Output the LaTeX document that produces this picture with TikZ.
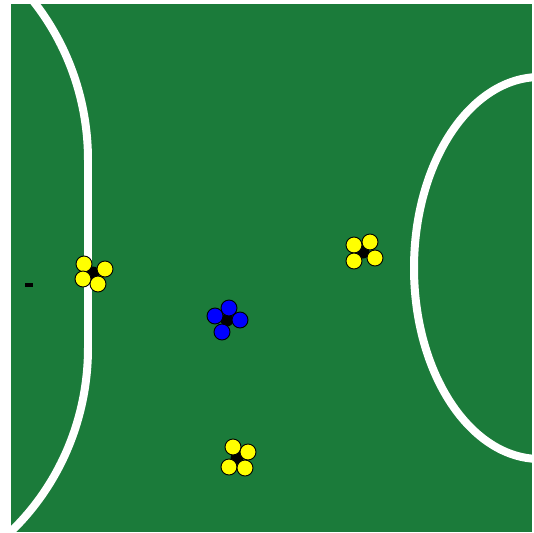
\documentclass[tikz,border=0pt]{standalone}
\definecolor{field}{HTML}{1B7B3A}
\definecolor{ylw}{HTML}{FFFF00}
\definecolor{blu}{HTML}{0000FF}
\tikzset{
  fieldline/.style={draw=white, line width=8pt},
  robot/.style={circle, draw=black, line width=0.9pt, minimum size=16pt, inner sep=0pt},
  hub/.style={circle, fill=black, minimum size=13pt, inner sep=0pt},
}
\begin{document}
\begin{tikzpicture}[x=1pt,y=-1pt]
\useasboundingbox (0,0) rectangle (534,532);
\fill[white] (0,0) rectangle (534,532);
\fill[field] (11,4) rectangle (532,532);
\begin{scope}
\clip (11,4) rectangle (532,532);
\draw[fieldline] (88,160) arc[start angle=0,end angle=-70,x radius=240,y radius=250];
\draw[fieldline] (88,158) -- (88,350);
\draw[fieldline] (88,348) arc[start angle=0,end angle=70,x radius=240,y radius=250];
\draw[fieldline] (540,268) ellipse[x radius=126,y radius=191];
\end{scope}
\fill[black] (25,283) rectangle (33,287);
% left yellow
\node[hub] (h1) at (93,273) {};
\node[robot,fill=ylw] (a1) at (84,264) {};
\node[robot,fill=ylw] (a2) at (105,269) {};
\node[robot,fill=ylw] (a3) at (83,279) {};
\node[robot,fill=ylw] (a4) at (98,284) {};
% blue
\node[hub] (h2) at (227,320) {};
\node[robot,fill=blu] (b1) at (229,308) {};
\node[robot,fill=blu] (b2) at (215,316) {};
\node[robot,fill=blu] (b3) at (240,320) {};
\node[robot,fill=blu] (b4) at (222,332) {};
% right yellow
\node[hub] (h3) at (363,252) {};
\node[robot,fill=ylw] (c1) at (354,245) {};
\node[robot,fill=ylw] (c2) at (370,242) {};
\node[robot,fill=ylw] (c3) at (354,261) {};
\node[robot,fill=ylw] (c4) at (375,258) {};
% bottom yellow
\node[hub] (h4) at (237,458) {};
\node[robot,fill=ylw] (d1) at (233,447) {};
\node[robot,fill=ylw] (d2) at (248,452) {};
\node[robot,fill=ylw] (d3) at (229,467) {};
\node[robot,fill=ylw] (d4) at (245,468) {};
\end{tikzpicture}
\end{document}
